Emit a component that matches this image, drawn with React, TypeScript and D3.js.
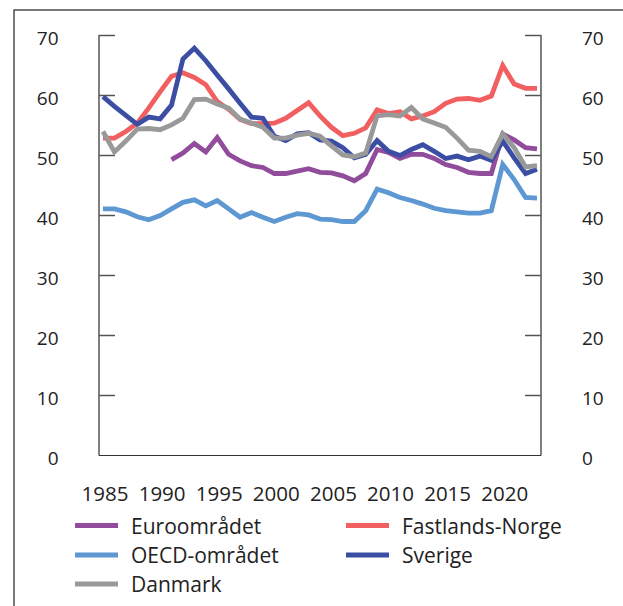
import React from "react";
import * as d3 from "d3";

const years = [1985, 1986, 1987, 1988, 1989, 1990, 1991, 1992, 1993, 1994, 1995, 1996, 1997, 1998, 1999, 2000, 2001, 2002, 2003, 2004, 2005, 2006, 2007, 2008, 2009, 2010, 2011, 2012, 2013, 2014, 2015, 2016, 2017, 2018, 2019, 2020, 2021, 2022, 2023];

const euroomradet = [null, null, null, null, null, null,
  49.3, 50.4, 52.0, 50.6,
  53.0, 50.2, 49.1, 48.3, 48.0, 47.0, 47.0, 47.4, 47.8, 47.2,
  47.1, 46.6, 45.8, 47.0, 51.0, 50.5, 49.5, 50.2, 50.2, 49.5,
  48.5, 48.0, 47.2, 47.0, 47.0, 53.6, 52.6, 51.3, 51.1];

const fastlandsNorge = [52.9, 52.9, 54.0, 55.4, 57.9, 60.6, 63.2, 63.8, 63.0, 61.8,
  59.0, 57.7, 56.0, 55.3, 55.3, 55.4, 56.2, 57.5, 58.8, 56.6,
  54.7, 53.3, 53.7, 54.6, 57.6, 57.0, 57.3, 56.1, 56.6, 57.3,
  58.7, 59.4, 59.5, 59.2, 59.9, 65.0, 61.9, 61.2, 61.2];

const oecdOmradet = [41.1, 41.1, 40.6, 39.8, 39.3, 40.0, 41.1, 42.2, 42.6, 41.6,
  42.5, 41.1, 39.7, 40.5, 39.7, 39.0, 39.7, 40.3, 40.1, 39.4,
  39.3, 39.0, 39.0, 40.8, 44.4, 43.8, 43.0, 42.5, 41.9, 41.2,
  40.8, 40.6, 40.4, 40.4, 40.8, 48.5, 46.0, 43.0, 42.9];

const sverige = [59.8, 58.2, 56.7, 55.2, 56.4, 56.1, 58.4, 66.1, 67.9, 65.8,
  63.4, 61.1, 58.7, 56.4, 56.2, 53.2, 52.5, 53.6, 53.8, 52.6,
  52.4, 51.3, 49.6, 50.2, 52.5, 50.7, 50.0, 51.0, 51.8, 50.7,
  49.5, 49.9, 49.3, 49.9, 49.2, 52.4, 49.6, 47.0, 47.7];

const danmark = [54.0, 50.6, 52.4, 54.4, 54.5, 54.3, 55.1, 56.2, 59.3, 59.4,
  58.6, 57.9, 56.1, 55.4, 54.7, 52.9, 52.9, 53.4, 53.7, 53.2,
  51.6, 50.1, 49.8, 50.4, 56.6, 56.8, 56.6, 58.0, 56.1, 55.4,
  54.7, 52.9, 50.9, 50.7, 49.8, 53.6, 51.3, 48.1, 48.3];

const yTicks = [0, 10, 20, 30, 40, 50, 60, 70];
const xTickLabels = [1985, 1990, 1995, 2000, 2005, 2010, 2015, 2020];

const seriesNames = ["Euroområdet", "Fastlands-Norge", "OECD-området", "Sverige", "Danmark"];
const seriesColors = ["#924C9C", "#F15F60", "#5D98D3", "#3B4EA3", "#999999"];
const seriesData = [euroomradet, fastlandsNorge, oecdOmradet, sverige, danmark];

const W = 623;
const H = 606;
const left = 99;
const right = 541;
const top = 35.5;
const bottom = 455.5;
const FONT = "'Open Sans', 'Noto Sans', sans-serif";

export default function App() {
  const x = d3.scaleLinear().domain([1985, 2023]).range([103, 537]);
  const y = d3.scaleLinear().domain([0, 70]).range([bottom, top]);
  const line = d3
    .line<[number, number | null]>()
    .defined((d) => d[1] != null)
    .x((d) => x(d[0]))
    .y((d) => y(d[1] as number));

  const legendPos = [
    [75, 525.5], [346, 525.5],
    [75, 555], [346, 555],
    [75, 584],
  ];

  return (
    <svg width={W} height={H} style={{ position: "absolute", left: 0, top: 0 }} fontFamily={FONT}>
      <rect x={14} y={10} width={W} height={H} fill="white" stroke="#222" strokeWidth={1.2} />
      {/* axes */}
      <line x1={left} x2={left} y1={top - 0.5} y2={bottom} stroke="#555" strokeWidth={1.5} />
      <line x1={right} x2={right} y1={top - 0.5} y2={bottom} stroke="#555" strokeWidth={1.5} />
      <line x1={left} x2={right} y1={bottom} y2={bottom} stroke="#333" strokeWidth={1.2} />
      {yTicks.map((t) => (
        <g key={t}>
          {t > 0 && (
            <>
              <line x1={left} x2={left + 16} y1={y(t)} y2={y(t)} stroke="#555" strokeWidth={1.5} />
              <line x1={right - 16} x2={right} y1={y(t)} y2={y(t)} stroke="#555" strokeWidth={1.5} />
            </>
          )}
          <text x={58.5} y={y(t) + 4.5} textAnchor="end" dominantBaseline="middle" fontSize={19} fill="#222">
            {t}
          </text>
          <text x={582} y={y(t) + 4.5} textAnchor="start" dominantBaseline="middle" fontSize={19} fill="#222">
            {t}
          </text>
        </g>
      ))}
      {xTickLabels.map((yr) => (
        <text key={yr} x={x(yr) + 2} y={501} textAnchor="middle" fontSize={20.5} fill="#222">
          {yr}
        </text>
      ))}
      {seriesData.map((s, i) => (
        <path
          key={seriesNames[i]}
          d={line(years.map((yr, j) => [yr, s[j]] as [number, number | null])) || ""}
          fill="none"
          stroke={seriesColors[i]}
          strokeWidth={4.8}
        />
      ))}
      {seriesNames.map((n, i) => (
        <g key={n} transform={`translate(${legendPos[i][0]},${legendPos[i][1]})`}>
          <line x1={0} x2={43} y1={0} y2={0} stroke={seriesColors[i]} strokeWidth={5} />
          <text x={56} y={0} dominantBaseline="central" fontSize={21} fill="#222">
            {n}
          </text>
        </g>
      ))}
    </svg>
  );
}
